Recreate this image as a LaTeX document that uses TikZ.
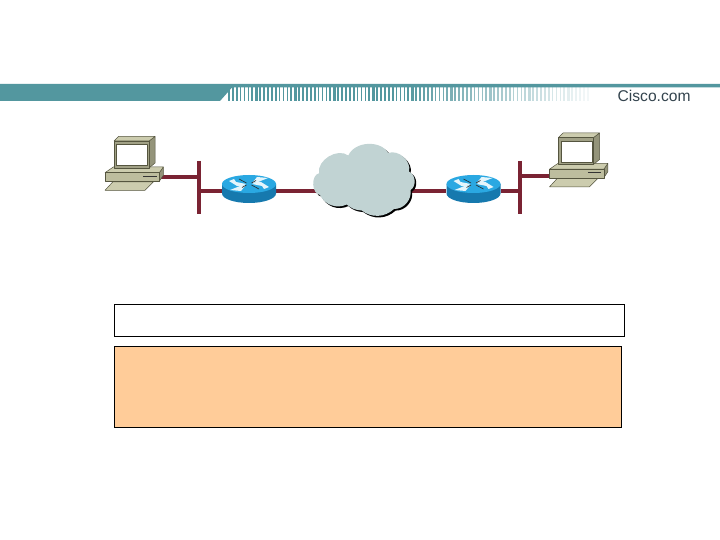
\documentclass[tikz,border=0pt]{standalone}
\usepackage{fontspec}
\setmainfont{Liberation Sans}
\definecolor{teal1}{HTML}{53979F}
\definecolor{wine}{HTML}{7A2333}
\definecolor{pclight}{HTML}{CCCCAE}
\definecolor{pcbody}{HTML}{BDBD9E}
\definecolor{pcdark}{HTML}{94947A}
\definecolor{pcedge}{HTML}{55553F}
\definecolor{cloudfill}{HTML}{C1D3D3}
\definecolor{routertop}{HTML}{2AA8E2}
\definecolor{routerside}{HTML}{1679AE}
\definecolor{peach}{HTML}{FFCC99}
\definecolor{logotext}{HTML}{34444E}
\tikzset{
  wire/.style={draw=wine,line width=3.8pt},
  busbar/.style={draw=wine,line width=4pt},
  pcpart/.style={draw=pcedge,line width=0.5pt,line join=round},
  panel/.style={draw=black,line width=0.7pt},
  anchorbox/.style={inner sep=0pt,outer sep=0pt},
}
\newcommand{\pcicon}[3]{%
\begin{scope}[shift={(#1,#2)}]
  \node[anchorbox,minimum width=59pt,minimum height=55pt] (#3) at (134.5,163) {};
  \filldraw[pcpart,fill=pclight] (112.7,182)--(153.3,182)--(145,190.3)--(105,190.3)--cycle;
  \filldraw[pcpart,fill=pcdark] (159.3,172.7)--(163.3,167)--(163.3,175.3)--(159.3,181.3)--cycle;
  \filldraw[pcpart,fill=pclight] (105,172.7)--(113.3,167)--(163.3,167)--(159.3,172.7)--cycle;
  \filldraw[pcpart,fill=pcbody] (105,172.7) rectangle (159.3,181.3);
  \draw[black!80,line width=0.9pt] (143.3,176)--(156.7,176);
  \filldraw[pcpart,fill=pcdark] (149,141)--(155,136.5)--(155,163)--(149,168)--cycle;
  \filldraw[pcpart,fill=pclight] (114,141)--(118.5,136.5)--(155,136.5)--(149,141)--cycle;
  \filldraw[pcpart,fill=pcbody!85!black] (114,141) rectangle (149,168);
  \filldraw[pcpart,fill=white] (116.7,144.3) rectangle (147.7,165.3);
\end{scope}}
\newcommand{\routericon}[2]{%
  \node[anchorbox,minimum width=54pt,minimum height=28pt] (#2) at (#1,189) {};
  \begin{scope}[shift={(#1,184)}]
    \fill[routerside] (-27,0)--(-27,9.5) arc[start angle=180,end angle=360,x radius=27pt,y radius=9.5pt]--(27,0)--cycle;
    \fill[routertop] (0,0) ellipse[x radius=27pt,y radius=9pt];
    \fill[white!88!routertop] (-3,0)--(-13,-2)--(-15,-5)--(-20,-3)--(-12,2)--(-8,2.5)--cycle;
    \fill[white!88!routertop] (3,0)--(13,2)--(15,5)--(20,3)--(12,-2)--(8,-2.5)--cycle;
    \fill[white!88!routertop] (-3,1)--(-9,2)--(-19,6)--(-8,7)--(-6,4.5)--cycle;
    \fill[white!88!routertop] (3,-1)--(9,-2)--(19,-6)--(8,-7)--(6,-4.5)--cycle;
    \draw[black!85,line width=0.6pt] (-2.5,-1)--(-10,-5) (2.5,1)--(10,5) (-2.5,1)--(-7,3.5) (2.5,-1)--(7,-3.5);
  \end{scope}}
\newcommand{\cloudshape}{%
  (319,173.3) to[bend left=68] (348.3,155.5)
  to[bend left=62] (388.3,153)
  to[bend left=62] (409,171.7)
  to[bend left=65] (410.5,190)
  to[bend left=50] (394,209)
  to[bend left=40] (361.7,210.5)
  to[bend left=18] (346.7,204.5)
  to[bend left=45] (320,195)
  to[bend left=80] cycle}
\begin{document}
\begin{tikzpicture}[x=1pt,y=-1pt]
\useasboundingbox (0,0) rectangle (720,540);
\fill[white] (0,0) rectangle (720,540);
% banner
\fill[teal1] (0,84) -- (720,84) -- (720,87.5) -- (232,87.5) -- (220,101) -- (0,101) -- cycle;
\foreach \i in {0,...,92}{
  \pgfmathsetmacro{\sx}{228+3.9*\i}
  \pgfmathsetmacro{\op}{\i<45 ? 1 : max(0.07,1-(\i-45)/50)}
  \pgfmathsetmacro{\lw}{mod(\i,5)==2 ? 2.2 : 1.6}
  \fill[teal1,opacity=\op] (\sx,87) rectangle +(\lw,14);
}
\node[anchor=base west,inner sep=0pt,text=logotext,font=\fontsize{15.6pt}{16pt}\selectfont] (logo) at (617.5,101.5) {Cisco.com};
% connection points
\coordinate (pa) at (160,177);
\coordinate (ba) at (199,177);
\coordinate (bb) at (199,191);
\coordinate (ra) at (222,191);
\coordinate (rb) at (276,191);
\coordinate (ca) at (322,191);
\coordinate (cb) at (410,191);
\coordinate (rc) at (446,191);
\coordinate (rd) at (501,191);
\coordinate (bc) at (520,191);
\coordinate (bd) at (520,176);
\coordinate (pb) at (550,176);
\coordinate (b1t) at (199,161);
\coordinate (b1b) at (199,214.5);
\coordinate (b2t) at (520,161);
\coordinate (b2b) at (520,214.5);
% wires
\draw[wire] (pa)--(ba);
\draw[wire] (bb)--(ra);
\draw[wire] (rb)--(ca);
\draw[wire] (cb)--(rc);
\draw[wire] (rd)--(bc);
\draw[wire] (bd)--(pb);
\draw[busbar] (b1t)--(b1b);
\draw[busbar] (b2t)--(b2b);
% devices
\pcicon{0}{0}{pc1}
\pcicon{444.5}{-3.5}{pc2}
\routericon{249}{r1}
\routericon{473.5}{r2}
% cloud
\node[anchorbox,minimum width=103pt,minimum height=71pt] (wan) at (363.5,180.5) {};
\fill[black,shift={(1.6,1.6)}] \cloudshape;
\fill[cloudfill] \cloudshape;
% panels
\node[panel,anchorbox,fill=white,minimum width=510pt,minimum height=32pt] (box1) at (369.5,320.5) {};
\node[panel,anchorbox,fill=peach,minimum width=507pt,minimum height=81pt] (box2) at (368,387) {};
\end{tikzpicture}
\end{document}
